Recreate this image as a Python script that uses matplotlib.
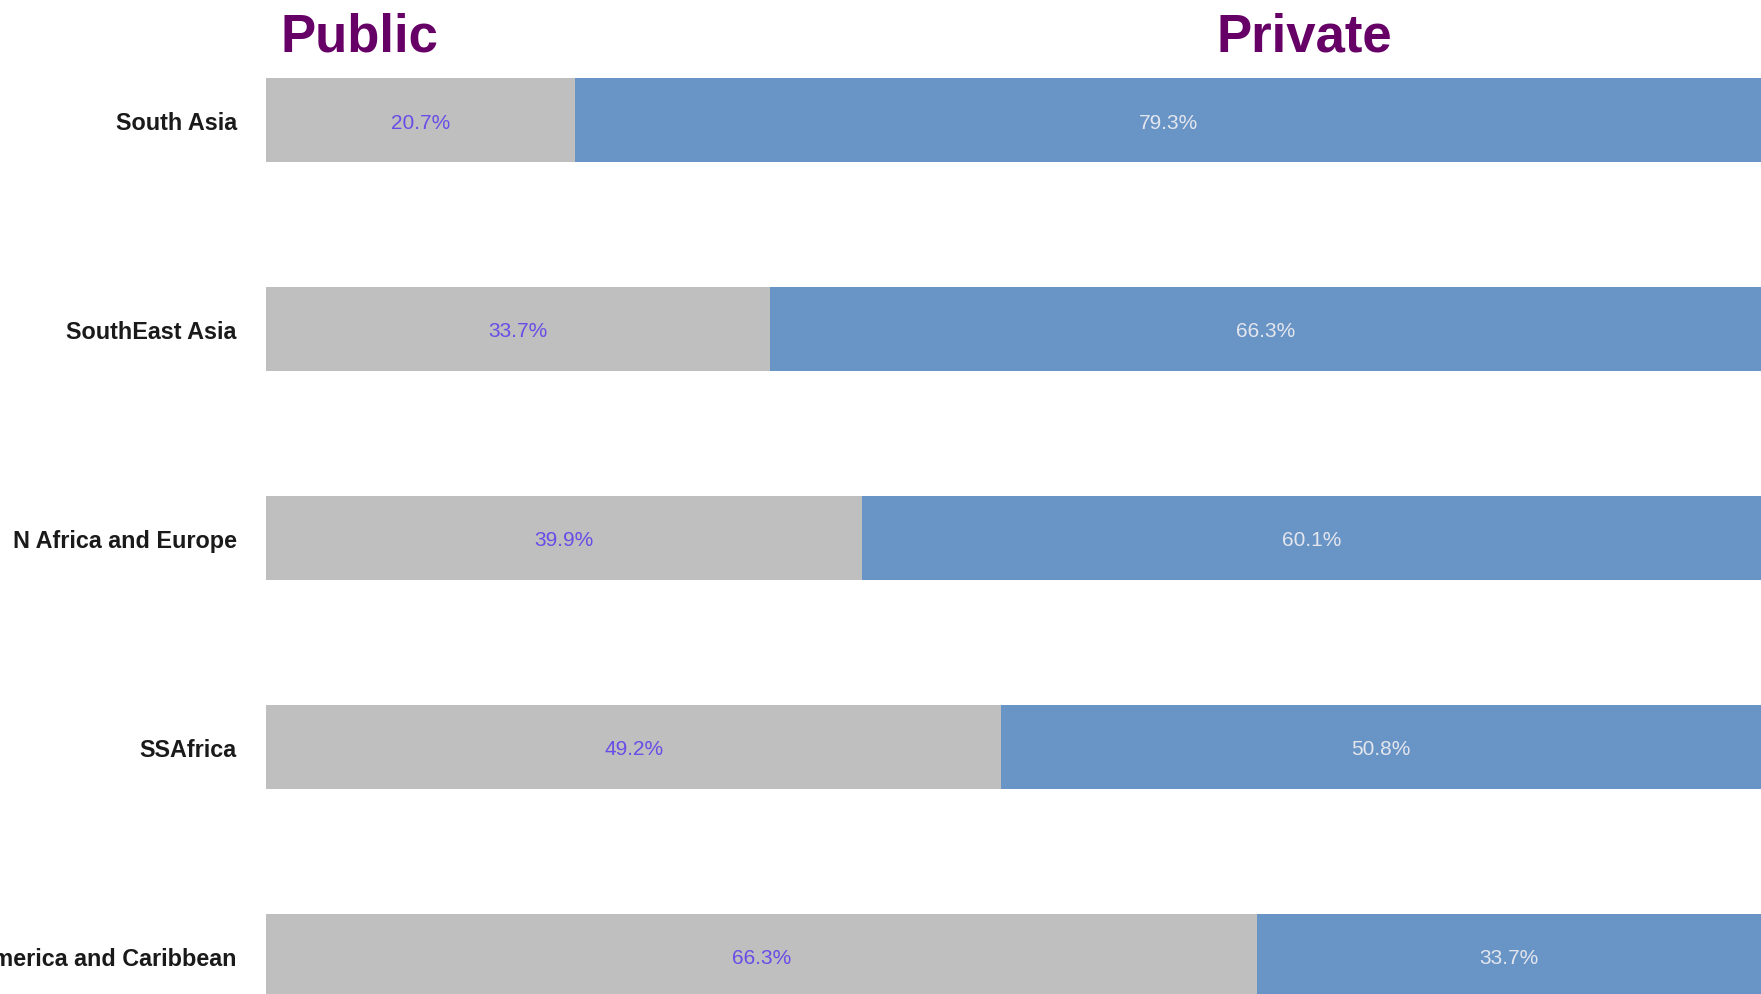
import matplotlib.pyplot as plt

# data
regions = ["South Asia", "SouthEast Asia", "N Africa and Europe", "SSAfrica",
           "Latin America and Caribbean"]
public = [20.7, 33.7, 39.9, 49.2, 66.3]
private = [79.3, 66.3, 60.1, 50.8, 33.7]

gray = "#BEBFBE"
blue = "#6894C6"
purple = "#660066"

plt.rcParams['font.family'] = ['Liberation Sans', 'DejaVu Sans']

fig = plt.figure(figsize=(17.61, 9.95), dpi=100)
ax = fig.add_axes([0.151, 0, 0.849, 1])

y = list(range(len(regions)))
ax.barh(y, public, height=0.405, color=gray)
ax.barh(y, private, left=public, height=0.405, color=blue)

for i in y:
    ax.text(public[i] / 2, i, f"{public[i]:.1f}%", ha="center",
            va="center_baseline", fontsize=15, color="#6A4CE8")
    ax.text(public[i] + private[i] / 2, i, f"{private[i]:.1f}%", ha="center",
            va="center_baseline", fontsize=15, color="#E4E6EE")

ax.set_xlim(0, 100)
ax.set_ylim(4.182, -0.579)
ax.set_yticks(y)
ax.set_yticklabels(regions, fontsize=16.8, fontweight="bold", color="#1a1a1a")
ax.tick_params(axis="y", length=0, pad=21)
ax.set_xticks([])
for s in ax.spines.values():
    s.set_visible(False)

fig.text(281 / 1761, 1 - 38 / 995, "Public", fontsize=38, fontweight="bold",
         color=purple, ha="left", va="center")
fig.text(1216 / 1761, 1 - 38 / 995, "Private", fontsize=38, fontweight="bold",
         color=purple, ha="left", va="center")

fig.savefig("out.png", dpi=100)
